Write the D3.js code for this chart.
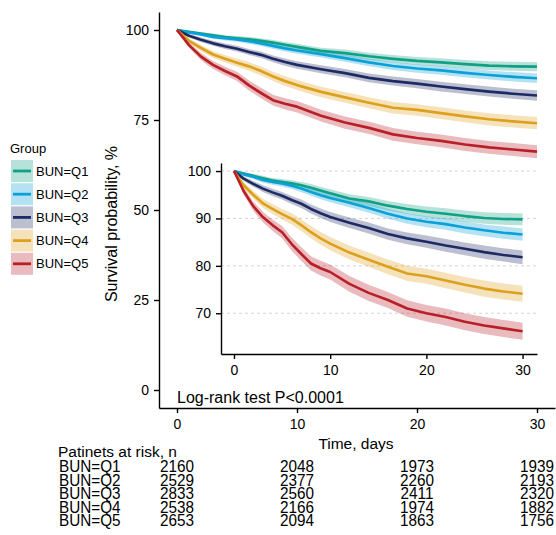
<!DOCTYPE html>
<html>
<head>
<meta charset="utf-8">
<script src="https://cdn.jsdelivr.net/npm/d3@7"></script>
<style>
  body { margin: 0; background: #fff; }
  svg { font-family: "Liberation Sans", Arial, sans-serif; }
  .axis path, .axis line { stroke: #000; stroke-width: 1.4; }
  .axis text { font-size: 14px; fill: #000; }
</style>
</head>
<body>
<script>
// survival estimates (%), by day
const times = [0, 1, 2, 3, 4, 5, 6, 7, 8, 9, 10, 12, 14, 16, 18, 20, 22, 24, 26, 28, 30];
const groups = ['BUN=Q1', 'BUN=Q2', 'BUN=Q3', 'BUN=Q4', 'BUN=Q5'];
const colors = ['#0FA085', '#0AA0D8', '#1E2A64', '#DDA01C', '#B81F27'];

const survQ1 = [100, 99.5, 99.0, 98.5, 98.0, 97.7, 97.4, 97.0, 96.5, 95.9, 95.3, 94.2, 93.6, 92.7, 92.0, 91.4, 91.0, 90.5, 90.1, 89.9, 89.8];
const survQ2 = [100, 99.3, 98.8, 98.1, 97.7, 97.4, 96.9, 96.3, 95.6, 94.9, 94.3, 93.3, 92.2, 91.0, 90.0, 89.3, 88.8, 88.1, 87.5, 87.0, 86.6];
const survQ3 = [100, 98.4, 97.3, 96.3, 95.5, 94.8, 93.9, 93.1, 92.0, 91.1, 90.3, 89.1, 88.0, 86.7, 85.8, 85.1, 84.3, 83.6, 82.9, 82.3, 81.8];
const survQ4 = [100, 97.0, 95.0, 93.2, 92.0, 90.9, 89.9, 88.6, 87.1, 85.8, 84.7, 82.8, 81.3, 79.8, 78.4, 77.8, 76.9, 76.0, 75.2, 74.6, 74.1];
const survQ5 = [100, 95.8, 92.6, 90.3, 88.6, 87.1, 84.6, 82.5, 80.5, 79.5, 78.7, 76.2, 74.3, 72.8, 71.0, 70.0, 69.2, 68.2, 67.4, 66.8, 66.2];

// half width of the confidence band (%)
const ciQ1 = [0, 0.3, 0.4, 0.5, 0.55, 0.6, 0.65, 0.7, 0.75, 0.8, 0.85, 0.9, 0.95, 1.0, 1.05, 1.1, 1.15, 1.2, 1.2, 1.25, 1.25];
const ciQ2 = [0, 0.35, 0.45, 0.55, 0.6, 0.65, 0.7, 0.75, 0.8, 0.85, 0.9, 0.95, 1.0, 1.05, 1.1, 1.15, 1.2, 1.25, 1.25, 1.3, 1.3];
const ciQ3 = [0, 0.45, 0.6, 0.7, 0.75, 0.8, 0.85, 0.9, 0.95, 1.0, 1.05, 1.1, 1.15, 1.2, 1.25, 1.3, 1.35, 1.35, 1.4, 1.4, 1.45];
const ciQ4 = [0, 0.65, 0.85, 0.95, 1.05, 1.1, 1.2, 1.25, 1.3, 1.35, 1.4, 1.45, 1.5, 1.55, 1.6, 1.6, 1.65, 1.65, 1.7, 1.7, 1.7];
const ciQ5 = [0, 0.75, 1.0, 1.1, 1.2, 1.3, 1.4, 1.45, 1.5, 1.55, 1.6, 1.65, 1.7, 1.7, 1.75, 1.75, 1.8, 1.8, 1.8, 1.8, 1.8];

// patients at risk
const riskTimes = [0, 10, 20, 30];
const riskQ1 = [2160, 2048, 1973, 1939];
const riskQ2 = [2529, 2377, 2260, 2193];
const riskQ3 = [2833, 2560, 2411, 2320];
const riskQ4 = [2538, 2166, 1974, 1882];
const riskQ5 = [2653, 2094, 1863, 1756];

const xTicks = [0, 10, 20, 30];
const mainYTicks = [0, 25, 50, 75, 100];
const insetYTicks = [70, 80, 90, 100];

const survs = [survQ1, survQ2, survQ3, survQ4, survQ5];
const cis = [ciQ1, ciQ2, ciQ3, ciQ4, ciQ5];
const risks = [riskQ1, riskQ2, riskQ3, riskQ4, riskQ5];

const series = groups.map((g, i) => ({
    name: g,
    color: colors[i],
    points: times.map((t, j) => ({ t: t, s: survs[i][j], lo: survs[i][j] - cis[i][j], hi: Math.min(100, survs[i][j] + cis[i][j]) }))
}));

const svg = d3.select('body').append('svg')
    .attr('width', 556)
    .attr('height', 535);

const drawCurves = (g, x, y, width) => {
    const area = d3.area()
        .x(p => x(p.t))
        .y0(p => y(p.lo))
        .y1(p => y(p.hi));
    const line = d3.line()
        .x(p => x(p.t))
        .y(p => y(p.s));

    g.selectAll('.band')
        .data(series)
        .enter().append('path')
        .attr('class', 'band')
        .attr('d', d => area(d.points))
        .style('fill', d => d.color)
        .style('fill-opacity', 0.3);

    g.selectAll('.curve')
        .data(series)
        .enter().append('path')
        .attr('class', 'curve')
        .attr('d', d => line(d.points))
        .style('fill', 'none')
        .style('stroke', d => d.color)
        .style('stroke-width', width)
        .style('stroke-linejoin', 'round');
}

// main panel
const x = d3.scaleLinear().domain([-1.5, 31.5]).range([159, 555]);
const y = d3.scaleLinear().domain([-5, 105]).range([408, 12]);

drawCurves(svg.append('g'), x, y, 2.7);

svg.append('g')
    .attr('class', 'axis')
    .attr('transform', 'translate(159,0)')
    .call(d3.axisLeft(y).tickValues(mainYTicks).tickSize(5).tickSizeOuter(0).tickPadding(5));

svg.append('g')
    .attr('class', 'axis')
    .attr('transform', 'translate(0,408)')
    .call(d3.axisBottom(x).tickValues(xTicks).tickSize(5).tickSizeOuter(0).tickPadding(6));

svg.append('text')
    .attr('transform', 'translate(117,224) rotate(-90)')
    .attr('text-anchor', 'middle')
    .style('font-size', '16px')
    .text('Survival probability, %');

svg.append('text')
    .attr('x', 356)
    .attr('y', 449)
    .attr('text-anchor', 'middle')
    .style('font-size', '15.5px')
    .text('Time, days');

svg.append('text')
    .attr('x', 177)
    .attr('y', 403)
    .style('font-size', '16px')
    .text('Log-rank test P<0.0001');

// inset panel
const xi = d3.scaleLinear().domain([-1.35, 31.5]).range([221, 537]);
const yi = d3.scaleLinear().domain([61.4, 101.7]).range([354, 163]);

const inset = svg.append('g');
inset.append('rect')
    .attr('x', 221).attr('y', 163)
    .attr('width', 316).attr('height', 191)
    .style('fill', '#fff');

inset.selectAll('.grid')
    .data(insetYTicks)
    .enter().append('line')
    .attr('class', 'grid')
    .attr('x1', 221).attr('x2', 537)
    .attr('y1', d => yi(d)).attr('y2', d => yi(d))
    .style('stroke', '#c8c8c8')
    .style('stroke-width', 0.8)
    .style('stroke-dasharray', '3,3');

drawCurves(inset.append('g'), xi, yi, 2.6);

inset.append('g')
    .attr('class', 'axis')
    .attr('transform', 'translate(221,0)')
    .call(d3.axisLeft(yi).tickValues(insetYTicks).tickSize(5).tickSizeOuter(0).tickPadding(5));

inset.append('g')
    .attr('class', 'axis')
    .attr('transform', 'translate(0,354)')
    .call(d3.axisBottom(xi).tickValues(xTicks).tickSize(5).tickSizeOuter(0).tickPadding(6));

// legend
const legend = svg.append('g');
legend.append('text')
    .attr('x', 10).attr('y', 153)
    .style('font-size', '13px')
    .text('Group');

const keys = legend.selectAll('.key')
    .data(series)
    .enter().append('g')
    .attr('class', 'key')
    .attr('transform', (d, i) => `translate(11,${160 + i * 23.2})`);

keys.append('rect')
    .attr('width', 22).attr('height', 22)
    .style('fill', d => d.color)
    .style('fill-opacity', 0.3);

keys.append('line')
    .attr('x1', 2).attr('x2', 20)
    .attr('y1', 11).attr('y2', 11)
    .style('stroke', d => d.color)
    .style('stroke-width', 2.8);

keys.append('text')
    .attr('x', 25).attr('y', 11)
    .attr('dy', '0.36em')
    .style('font-size', '13px')
    .text(d => d.name);

// risk table
const table = svg.append('g');
table.append('text')
    .attr('x', 58).attr('y', 457)
    .style('font-size', '15.5px')
    .text('Patinets at risk, n');

const rows = table.selectAll('.row')
    .data(series)
    .enter().append('g')
    .attr('class', 'row')
    .attr('transform', (d, i) => `translate(0,${472 + i * 13.5})`);

rows.append('text')
    .attr('transform', 'translate(59,0) scale(0.9,1)')
    .style('font-size', '17px')
    .text(d => d.name);

rows.each(function (d, i) {
    d3.select(this).selectAll('.n')
        .data(riskTimes)
        .enter().append('text')
        .attr('class', 'n')
        .attr('transform', t => `translate(${x(t)},0) scale(0.9,1)`)
        .attr('text-anchor', 'middle')
        .style('font-size', '17px')
        .text((t, j) => risks[i][j]);
});
</script>
</body>
</html>
